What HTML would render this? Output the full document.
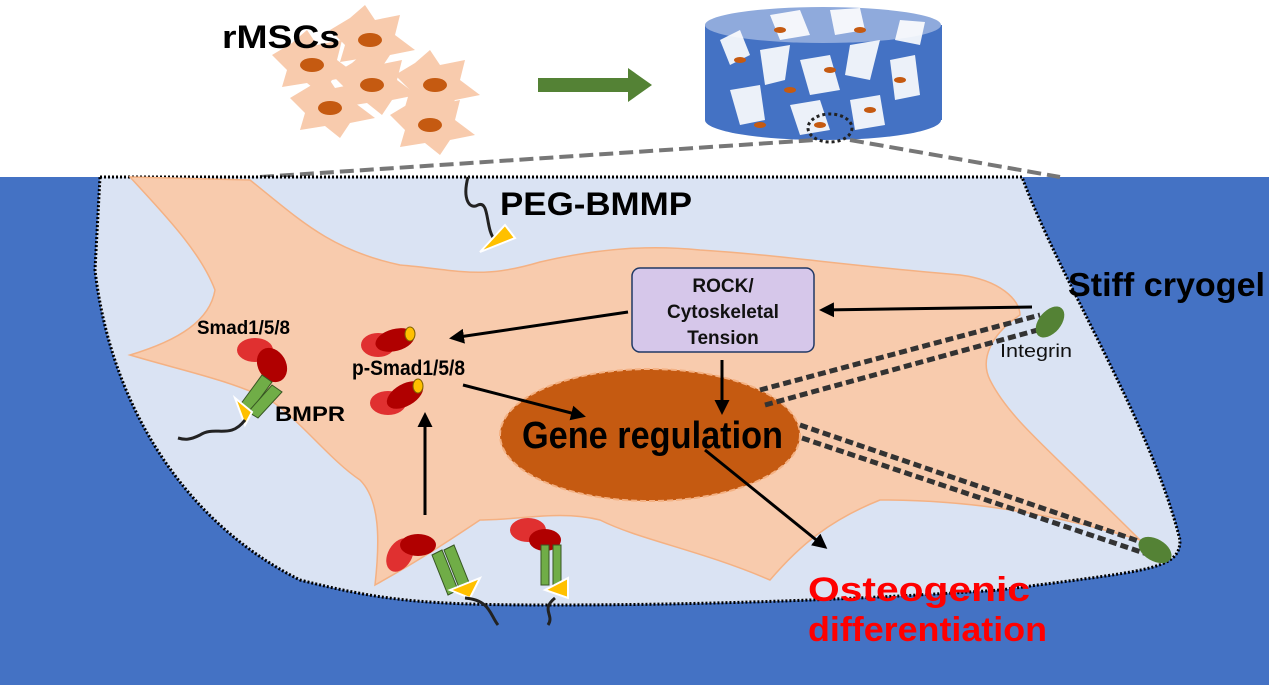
<!DOCTYPE html>
<html><head><style>body{margin:0;width:1269px;height:685px;overflow:hidden;background:#fff}</style></head><body>
<svg width="1269" height="685" viewBox="0 0 1269 685" xmlns="http://www.w3.org/2000/svg" font-family="Liberation Sans, sans-serif" font-weight="bold">
<defs>
<marker id="ah" viewBox="0 0 10 10" refX="8" refY="5" markerWidth="5" markerHeight="5" orient="auto"><path d="M0,0L10,5L0,10z" fill="#000"/></marker>
<g id="mcell"><path d="M-40,-10 L-20,-22 L-5,-35 L5,-20 L30,-25 L25,-5 L45,10 L20,15 L10,30 L-5,18 L-30,22 L-25,5 Z" fill="#f8cbad"/><ellipse cx="0" cy="0" rx="12" ry="7" fill="#c55a11"/></g>
</defs>
<rect x="0" y="177" width="1269" height="508" fill="#4472c4"/>
<use href="#mcell" x="370" y="40"/><use href="#mcell" x="312" y="65"/><use href="#mcell" x="372" y="85"/><use href="#mcell" x="435" y="85"/><use href="#mcell" x="330" y="108"/><use href="#mcell" x="430" y="125"/>
<text x="222" y="48" font-size="32" textLength="118" lengthAdjust="spacingAndGlyphs">rMSCs</text>
<polygon points="538,78 628,78 628,68 652,85 628,102 628,92 538,92" fill="#548235"/>
<rect x="705" y="25" width="237" height="95" fill="#4472c4"/>
<ellipse cx="823" cy="120" rx="118" ry="20" fill="#4472c4"/>
<ellipse cx="823" cy="25" rx="118" ry="18" fill="#8faadc"/>
<g fill="#fff" opacity="0.9">
<polygon points="720,40 740,30 750,55 730,65"/><polygon points="760,50 790,45 785,80 765,85"/><polygon points="800,60 830,55 840,90 810,95"/><polygon points="850,45 880,40 870,80 845,75"/><polygon points="890,60 915,55 920,95 895,100"/><polygon points="730,90 760,85 765,120 740,125"/><polygon points="790,105 820,100 830,130 800,135"/><polygon points="850,100 880,95 885,125 855,130"/><polygon points="770,15 800,10 810,35 780,40"/><polygon points="830,10 860,8 865,30 835,35"/><polygon points="900,20 925,22 920,45 895,40"/>
</g>
<g fill="#c55a11"><ellipse cx="740" cy="60" rx="6" ry="3"/><ellipse cx="790" cy="90" rx="6" ry="3"/><ellipse cx="830" cy="70" rx="6" ry="3"/><ellipse cx="870" cy="110" rx="6" ry="3"/><ellipse cx="760" cy="125" rx="6" ry="3"/><ellipse cx="820" cy="125" rx="6" ry="3"/><ellipse cx="860" cy="30" rx="6" ry="3"/><ellipse cx="900" cy="80" rx="6" ry="3"/><ellipse cx="780" cy="30" rx="6" ry="3"/></g>
<ellipse cx="830" cy="128" rx="22" ry="14" fill="none" stroke="#222" stroke-width="3" stroke-dasharray="3,3"/>
<path d="M260,177 L815,140 M850,140 L1060,177" stroke="#777" stroke-width="4" stroke-dasharray="14,6" fill="none"/>
<path d="M100,177 L1022,177 C1060,280 1150,420 1180,540 C1180,570 1150,570 1000,590 C850,600 700,605 550,605 C420,605 380,600 300,580 C180,520 110,400 95,270 Z" fill="#dae3f3" stroke="#000" stroke-width="3" stroke-dasharray="2,2"/>
<path d="M130,177 L250,180 C300,220 330,250 400,265 C460,270 480,280 540,262 C600,248 650,245 700,250 C780,255 840,265 960,275 C1000,280 1020,300 1020,315 C990,335 980,360 990,380 C1010,420 1050,450 1140,540 C1040,510 960,500 880,500 C830,520 800,545 770,580 C700,550 640,540 600,520 C560,510 520,520 480,520 C450,540 420,560 375,585 C380,540 380,500 360,480 C330,460 300,420 270,400 C230,380 180,370 130,355 C180,340 210,320 215,290 C200,250 160,210 130,177 Z" fill="#f8cbad" stroke="#f4b183" stroke-width="1.5"/>
<ellipse cx="650" cy="435" rx="150" ry="66" fill="#c55a11" stroke="#f4b183" stroke-width="2" stroke-dasharray="6,3"/>
<path d="M760,390 L1040,315 M765,405 L1045,328 M800,425 L1150,545 M802,438 L1150,555" stroke="#333" stroke-width="5" stroke-dasharray="8,4"/>
<ellipse cx="1050" cy="322" rx="11" ry="18" transform="rotate(40 1050 322)" fill="#548235"/>
<ellipse cx="1155" cy="550" rx="11" ry="18" transform="rotate(-60 1155 550)" fill="#548235"/>
<path d="M468,177 C462,200 470,210 478,205 C490,200 485,230 495,240" stroke="#222" stroke-width="3" fill="none"/>
<polygon points="480,252 515,238 505,225" fill="#ffc000" stroke="#fff" stroke-width="2"/>
<text x="500" y="215" font-size="32" textLength="192" lengthAdjust="spacingAndGlyphs">PEG-BMMP</text>
<rect x="632" y="268" width="182" height="84" rx="8" fill="#d6c7ea" stroke="#203864" stroke-width="1.5"/>
<text font-size="19" text-anchor="middle" fill="#111"><tspan x="723" y="292">ROCK/</tspan><tspan x="723" y="318">Cytoskeletal</tspan><tspan x="723" y="344">Tension</tspan></text>
<text x="522" y="448" font-size="38" fill="#000" textLength="261" lengthAdjust="spacingAndGlyphs">Gene regulation</text>
<text x="1068" y="296" font-size="33" textLength="197" lengthAdjust="spacingAndGlyphs">Stiff cryogel</text>
<text x="1000" y="357" font-size="18" font-weight="normal" fill="#111" textLength="72" lengthAdjust="spacingAndGlyphs">Integrin</text>
<text x="197" y="334" font-size="19" textLength="93" lengthAdjust="spacingAndGlyphs">Smad1/5/8</text>
<text x="352" y="375" font-size="21" textLength="113" lengthAdjust="spacingAndGlyphs">p-Smad1/5/8</text>
<text x="275" y="421" font-size="21" textLength="70" lengthAdjust="spacingAndGlyphs">BMPR</text>
<text font-size="34" fill="#f00"><tspan x="808" y="601" textLength="222" lengthAdjust="spacingAndGlyphs">Osteogenic</tspan><tspan x="808" y="641" textLength="239" lengthAdjust="spacingAndGlyphs">differentiation</tspan></text>
<g stroke="#000" stroke-width="3" fill="none" marker-end="url(#ah)">
<line x1="1032" y1="307" x2="822" y2="310"/>
<line x1="628" y1="312" x2="452" y2="338"/>
<line x1="722" y1="360" x2="722" y2="412"/>
<line x1="463" y1="385" x2="583" y2="416"/>
<line x1="425" y1="515" x2="425" y2="415"/>
<line x1="705" y1="450" x2="825" y2="547"/>
</g>
<g>
<ellipse cx="255" cy="350" rx="18" ry="12" fill="#e03030"/><ellipse cx="272" cy="365" rx="14" ry="18" transform="rotate(-30 272 365)" fill="#b00000"/>
<ellipse cx="378" cy="345" rx="17" ry="12" fill="#e03030"/><ellipse cx="395" cy="340" rx="20" ry="11" transform="rotate(-15 395 340)" fill="#b00000"/><ellipse cx="410" cy="334" rx="5" ry="7" fill="#ffc000" stroke="#7f6000"/>
<ellipse cx="388" cy="403" rx="18" ry="12" fill="#e03030"/><ellipse cx="405" cy="395" rx="20" ry="11" transform="rotate(-30 405 395)" fill="#b00000"/><ellipse cx="418" cy="386" rx="5" ry="7" fill="#ffc000" stroke="#7f6000"/>
<ellipse cx="400" cy="555" rx="12" ry="18" transform="rotate(30 400 555)" fill="#e03030"/><ellipse cx="418" cy="545" rx="18" ry="11" fill="#b00000"/>
<ellipse cx="528" cy="530" rx="18" ry="12" fill="#e03030"/><ellipse cx="545" cy="540" rx="16" ry="11" fill="#b00000"/>
</g>
<g fill="#70ad47" stroke="#375623">
<polygon points="262,375 272,382 250,412 240,405"/><polygon points="272,385 282,392 258,418 248,412"/>
<polygon points="432,555 442,550 458,590 448,595"/><polygon points="444,550 454,545 470,585 460,590"/>
<rect x="541" y="545" width="8" height="40"/><rect x="553" y="545" width="8" height="40"/>
</g>
<g fill="#ffc000" stroke="#fff" stroke-width="2">
<polygon points="235,398 252,412 245,425"/><polygon points="450,590 480,578 470,598"/><polygon points="545,590 568,578 568,598"/>
</g>
<g stroke="#222" stroke-width="3" fill="none">
<path d="M245,420 C230,440 215,425 200,435 C190,440 185,440 178,438"/>
<path d="M465,598 C490,600 490,615 498,625"/>
<path d="M555,598 C540,610 555,615 548,625"/>
</g>
</svg>
</body></html>
